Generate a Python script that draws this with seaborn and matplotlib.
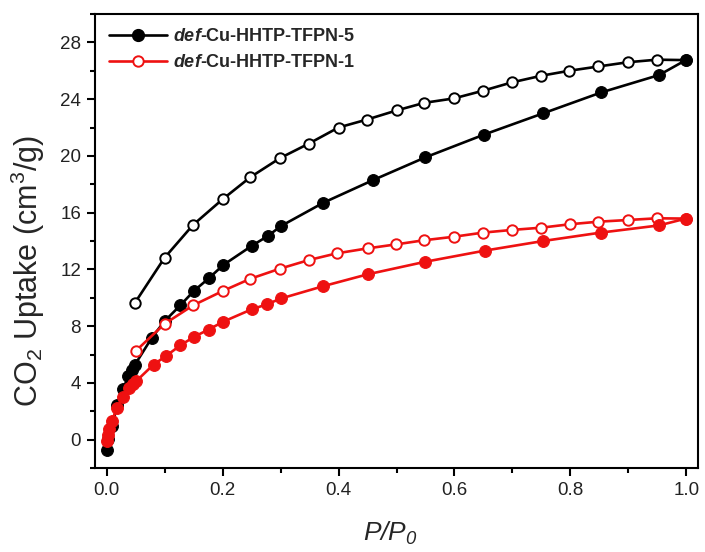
import matplotlib
matplotlib.use("Agg")
import matplotlib.pyplot as plt
import seaborn as sns
import numpy as np
from matplotlib.ticker import MultipleLocator, FormatStrFormatter
from matplotlib.lines import Line2D

# ---- data ----
ads5_x = [0.001, 0.003, 0.010, 0.018, 0.029, 0.037, 0.044, 0.049, 0.078, 0.100,
          0.127, 0.151, 0.176, 0.201, 0.250, 0.278, 0.301, 0.374, 0.460, 0.550,
          0.651, 0.753, 0.853, 0.953, 0.999]
ads5_y = [-0.7, 0.05, 0.94, 2.47, 3.58, 4.47, 4.94, 5.29, 7.18, 8.35,
          9.46, 10.5, 11.36, 12.3, 13.65, 14.35, 15.06, 16.7, 18.3, 19.9,
          21.5, 23.0, 24.47, 25.7, 26.75]

des5_x = [0.999, 0.949, 0.899, 0.848, 0.798, 0.750, 0.699, 0.649, 0.599, 0.548,
          0.500, 0.449, 0.400, 0.349, 0.299, 0.248, 0.200, 0.149, 0.100, 0.049]
des5_y = [26.75, 26.78, 26.6, 26.3, 26.0, 25.65, 25.18, 24.59, 24.05, 23.74,
          23.2, 22.56, 22.0, 20.87, 19.84, 18.5, 16.94, 15.13, 12.82, 9.65]

ads1_x = [0.001, 0.002, 0.004, 0.009, 0.018, 0.029, 0.039, 0.045, 0.051, 0.081,
          0.102, 0.127, 0.151, 0.176, 0.201, 0.250, 0.276, 0.301, 0.374, 0.450,
          0.550, 0.652, 0.753, 0.852, 0.953, 0.999]
ads1_y = [-0.1, 0.35, 0.75, 1.29, 2.24, 3.01, 3.65, 3.95, 4.12, 5.29,
          5.88, 6.64, 7.25, 7.76, 8.31, 9.18, 9.53, 9.95, 10.82, 11.65,
          12.54, 13.32, 14.0, 14.59, 15.1, 15.58]

des1_x = [0.999, 0.949, 0.899, 0.848, 0.799, 0.750, 0.699, 0.649, 0.599, 0.547,
          0.499, 0.450, 0.397, 0.349, 0.299, 0.248, 0.200, 0.149, 0.100, 0.050]
des1_y = [15.58, 15.6, 15.48, 15.36, 15.18, 14.94, 14.78, 14.59, 14.3, 14.05,
          13.76, 13.48, 13.13, 12.66, 12.05, 11.34, 10.47, 9.46, 8.16, 6.24]

label5 = r"$\mathit{def}$-Cu-HHTP-TFPN-5"
label1 = r"$\mathit{def}$-Cu-HHTP-TFPN-1"

# ---- style ----
sns.set_theme(style="ticks")
plt.rcParams['font.family'] = ['Liberation Sans', 'DejaVu Sans']
plt.rcParams['mathtext.fontset'] = 'custom'
plt.rcParams['mathtext.rm'] = 'Liberation Sans'
plt.rcParams['mathtext.it'] = 'Liberation Sans:italic:bold'
plt.rcParams['mathtext.sf'] = 'Liberation Sans:italic'

fig = plt.figure(figsize=(7.05, 5.52), dpi=100)
ax = fig.add_axes([95/705, (552-468)/552, (698-95)/705, (468-14)/552])

lw = 1.9
ms_f = 8.5
ms_o = 7.5
red = '#ee1111'

# black filled (adsorption, TFPN-5)
sns.lineplot(x=ads5_x, y=ads5_y, sort=False, estimator=None, ax=ax,
             color='black', lw=lw, marker='o', markersize=ms_f,
             markerfacecolor='black', markeredgecolor='black', zorder=3)
# black open (desorption, TFPN-5)
sns.lineplot(x=des5_x, y=des5_y, sort=False, estimator=None, ax=ax,
             color='black', lw=lw, marker='o', markersize=ms_o,
             markerfacecolor='white', markeredgecolor='black', markeredgewidth=1.4,
             zorder=2)
# red filled (adsorption, TFPN-1)
sns.lineplot(x=ads1_x, y=ads1_y, sort=False, estimator=None, ax=ax,
             color=red, lw=lw, marker='o', markersize=ms_f,
             markerfacecolor=red, markeredgecolor=red, zorder=5)
# red open (desorption, TFPN-1)
sns.lineplot(x=des1_x, y=des1_y, sort=False, estimator=None, ax=ax,
             color=red, lw=lw, marker='o', markersize=ms_o,
             markerfacecolor='white', markeredgecolor=red, markeredgewidth=1.4,
             zorder=4)

ax.set_xlim(-0.02, 1.02)
ax.set_ylim(-2, 30)
ax.xaxis.set_major_locator(MultipleLocator(0.2))
ax.xaxis.set_minor_locator(MultipleLocator(0.1))
ax.xaxis.set_major_formatter(FormatStrFormatter('%.1f'))
ax.yaxis.set_major_locator(MultipleLocator(4))
ax.yaxis.set_minor_locator(MultipleLocator(2))
ax.yaxis.set_major_formatter(FormatStrFormatter('%d'))

for s in ax.spines.values():
    s.set_linewidth(1.5)
    s.set_color('black')
    s.set_visible(True)
ax.tick_params(which='major', direction='out', length=6, width=1.5,
               labelsize=13.5, colors='black', labelcolor='#222222', pad=4)
ax.tick_params(which='minor', direction='out', length=3.5, width=1.5, colors='black')
ax.tick_params(axis='x', which='both', top=False)
ax.tick_params(axis='y', which='both', right=False)

ax.set_xlabel(r"$\mathsf{P/P_0}$", fontsize=19)
ax.xaxis.set_label_coords(0.49, -0.115)
ax.set_ylabel(r"CO$_2$ Uptake (cm$^3$/g)", fontsize=22)
ax.yaxis.set_label_coords(-0.08, 0.434)

handles = [
    Line2D([], [], color='black', lw=lw, marker='o', markersize=ms_f,
           markerfacecolor='black', markeredgecolor='black'),
    Line2D([], [], color=red, lw=lw, marker='o', markersize=ms_o,
           markerfacecolor='white', markeredgecolor=red, markeredgewidth=1.4),
]
leg = ax.legend(handles, [label5, label1], loc='upper left',
                bbox_to_anchor=(0.0, 1.0), frameon=False,
                prop={'weight': 'bold', 'size': 13}, handlelength=3.2,
                handletextpad=0.3, labelspacing=0.5, borderaxespad=0.5,
                borderpad=0.3)

fig.savefig("out.png", dpi=100)
